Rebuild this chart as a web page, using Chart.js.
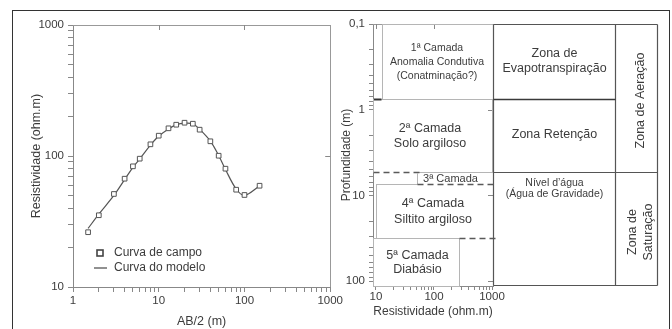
<!DOCTYPE html>
<html><head><meta charset="utf-8">
<script src="https://cdn.jsdelivr.net/npm/chart.js@4/dist/chart.umd.min.js"></script>
<style>
html,body{margin:0;padding:0;background:#fff;width:672px;height:329px;overflow:hidden;}
#frame{position:absolute;left:12px;top:10px;width:658px;height:330px;border:1.5px solid #333;border-bottom:none;box-sizing:border-box;}
#c1{position:absolute;left:0;top:0;}
#c2{position:absolute;left:336px;top:0;}
</style></head><body>
<div id="frame"></div>
<canvas id="c1" width="345" height="329"></canvas>
<canvas id="c2" width="336" height="329"></canvas>
<script>
// ---------- Left panel data (sounding curve) ----------
const abHalf   = [1.5, 2, 3, 4, 5, 6, 8, 10, 13, 16, 20, 25, 30, 40, 50, 60, 80, 100, 150];
const fieldRho = [26.2, 35.3, 51.3, 67.1, 83.4, 95.4, 122.8, 142.9, 162.7, 173.3, 179.5, 176.4, 158.8, 129.5, 100.5, 80, 55.3, 50.4, 59.3];
const modelRho = [28, 36, 50, 66, 82, 95, 121, 142, 161, 173, 178, 176, 160, 130, 101, 79, 56, 50, 59];
const seriesNames = ['Curva de campo', 'Curva do modelo'];
const abTicks   = [1,2,3,4,5,6,7,8,9,10,20,30,40,50,60,70,80,90,100,200,300,400,500,600,700,800,900,1000];
const abMajor   = [1, 10, 100, 1000];
const abLabels  = ['1', '10', '100', '1000'];
const rhoTicks  = [10,20,30,40,50,60,70,80,90,100,200,300,400,500,600,700,800,900,1000];
const rhoMajor  = [10, 100, 1000];
const rhoLabels = ['10', '100', '1000'];

// ---------- Right panel data (geoelectric layers) ----------
const layerText = [
  ['1ª Camada', 'Anomalia Condutiva', '(Conatminação?)'],
  ['2ª Camada', 'Solo argiloso'],
  ['3ª Camada'],
  ['4ª Camada', 'Siltito argiloso'],
  ['5ª Camada', 'Diabásio']
];
const layerTop    = [0.1, 0.75, 5.3, 7.4, 31];
const layerBase   = [0.75, 5.3, 7.4, 31, null];      // null = bottom of axis
const layerResMin = [12.5, null, 50, 10, null];      // null = axis start
const layerResMax = [null, 1000, null, null, 275];   // null = axis end
const inferredDepth = [5.3, 7.4, 31];
const inferredFrom  = [null, 50, 275];
const inferredTo    = [50, null, null];
const zoneText = [['Zona de', 'Evapotranspiração'], ['Zona Retenção'], ['Nível d’água', '(Água de Gravidade)']];
const zoneTop  = [0.1, 0.75, 5.3];
const zoneBase = [0.75, 5.3, null];
const bigZoneText = [['Zona de Aeração'], ['Zona de', 'Saturação']];
const bigZoneTop  = [0.1, 5.3];
const bigZoneBase = [5.3, null];
const resTicks  = [10,20,30,40,50,60,70,80,90,100,200,300,400,500,600,700,800,900,1000];
const resMajor  = [10, 100, 1000];
const resLabels = ['10', '100', '1000'];
const depthTicks  = [0.1,0.2,0.3,0.4,0.5,0.6,0.7,0.8,0.9,1,2,3,4,5,6,7,8,9,10,20,30,40,50,60,70,80,90,100];
const depthMajor  = [0.1, 1, 10, 100];
const depthLabels = ['0,1', '1', '10', '100'];

// ---------- common ----------
const FONT = "'Liberation Sans', Arial, Helvetica, sans-serif";
Chart.defaults.font.family = FONT;
Chart.defaults.color = '#3c3c3c';
Chart.defaults.animation = false;

function labelFor(majors, labels) {
  return v => { const i = majors.indexOf(v); return i >= 0 ? labels[i] : ''; };
}
function seg(ctx, x1, y1, x2, y2) { ctx.beginPath(); ctx.moveTo(x1, y1); ctx.lineTo(x2, y2); ctx.stroke(); }
function crisp(v) { return Math.round(v) + 0.5; }

const frameTicks = {
  id: 'frameTicks',
  afterDraw(chart, args, opts) {
    const {ctx, chartArea: a, scales} = chart;
    ctx.save();
    ctx.strokeStyle = '#999'; ctx.lineWidth = 1;
    seg(ctx, a.left, crisp(a.top), a.right, crisp(a.top));
    seg(ctx, crisp(a.right), a.top, crisp(a.right), a.bottom);
    ctx.strokeStyle = '#888';
    opts.xMajor.forEach(v => { const x = crisp(scales.x.getPixelForValue(v)); if (x > a.left + 2 && x < a.right - 2) seg(ctx, x, a.top, x, a.top + 5); });
    opts.yMajor.forEach(v => { const y = crisp(scales.y.getPixelForValue(v)); if (y > a.top + 2 && y < a.bottom - 2) seg(ctx, a.right, y, a.right - 5, y); });
    ctx.restore();
  }
};

function axisOpts(ticks, majors, labels, extra) {
  return Object.assign({
    type: 'logarithmic',
    afterBuildTicks: s => { s.ticks = ticks.map(v => ({value: v, major: majors.includes(v)})); },
    ticks: { autoSkip: false, maxRotation: 0, minRotation: 0, callback: labelFor(majors, labels), font: {size: 11}, color: '#3c3c3c' },
    grid: { display: true, drawOnChartArea: false, drawTicks: true, tickLength: 5, tickColor: '#888', tickWidth: 1 },
    border: { display: true, color: '#888', width: 1 }
  }, extra);
}

// ---------- Left chart ----------
const legendPlugin = {
  id: 'sevLegend',
  afterDraw(chart) {
    const {ctx, chartArea: a} = chart;
    const ds = chart.data.datasets;
    ctx.save();
    ctx.font = '12px ' + FONT; ctx.fillStyle = '#3c3c3c'; ctx.textBaseline = 'middle'; ctx.textAlign = 'left';
    const x0 = a.left + 27, y1 = a.bottom - 34, y2 = a.bottom - 19;
    ctx.strokeStyle = '#444'; ctx.lineWidth = 1.6; ctx.fillStyle = '#fff';
    ctx.fillRect(x0 - 3, y1 - 3, 6, 6); ctx.strokeRect(x0 - 3, y1 - 3, 6, 6);
    ctx.lineWidth = 1.3; ctx.strokeStyle = '#555';
    seg(ctx, x0 - 6, y2, x0 + 7, y2);
    ctx.fillStyle = '#3c3c3c';
    ctx.fillText(ds[0].label, x0 + 14, y1);
    ctx.fillText(ds[1].label, x0 + 14, y2);
    ctx.restore();
  }
};

new Chart(document.getElementById('c1'), {
  type: 'line',
  data: {
    labels: abHalf,
    datasets: [
      { label: seriesNames[0], data: abHalf.map((x, i) => ({x, y: fieldRho[i]})), showLine: false,
        pointStyle: 'rect', pointRadius: 3.3, pointBorderWidth: 1, pointBorderColor: '#555', pointBackgroundColor: '#fff', order: 0 },
      { label: seriesNames[1], data: abHalf.map((x, i) => ({x, y: modelRho[i]})), borderColor: '#555', borderWidth: 1.2,
        pointRadius: 0, tension: 0.35, fill: false, order: 1 }
    ]
  },
  options: {
    responsive: false,
    layout: { padding: { top: 25, right: 14, left: 0, bottom: 0 } },
    plugins: { legend: { display: false }, tooltip: { enabled: false }, frameTicks: { xMajor: abMajor, yMajor: rhoMajor } },
    scales: {
      x: axisOpts(abTicks, abMajor, abLabels, {
        min: 1, max: 1000, afterFit: s => { s.height = 42; },
        ticks: { autoSkip: false, maxRotation: 0, minRotation: 0, padding: 2, callback: labelFor(abMajor, abLabels), font: {size: 11.5}, color: '#3c3c3c' },
        title: { display: true, text: 'AB/2 (m)', font: {size: 12.5}, color: '#3c3c3c', padding: {top: 0, bottom: 0} }
      }),
      y: axisOpts(rhoTicks, rhoMajor, rhoLabels, {
        min: 10, max: 1000, afterFit: s => { s.width = 73; },
        ticks: { autoSkip: false, padding: 4, callback: labelFor(rhoMajor, rhoLabels), font: {size: 11.5}, color: '#3c3c3c' },
        title: { display: true, text: 'Resistividade (ohm.m)', font: {size: 12.5}, color: '#3c3c3c', padding: {top: 29.5, bottom: 0} }
      })
    }
  },
  plugins: [frameTicks, legendPlugin]
});

// ---------- Right chart ----------
const layerPlugin = {
  id: 'layers',
  afterDraw(chart) {
    const {ctx, chartArea: a, scales: {x: xs, y: ys}} = chart;
    const px = v => crisp(xs.getPixelForValue(v === null ? xs.max : v));
    const pxMin = v => crisp(xs.getPixelForValue(v === null ? xs.min : v));
    const py = v => crisp(ys.getPixelForValue(v === null ? ys.max : v));
    ctx.save();
    // layer boxes
    ctx.strokeStyle = '#b5b5b5'; ctx.lineWidth = 1;
    layerText.forEach((t, i) => {
      const x1 = pxMin(layerResMin[i]), x2 = px(layerResMax[i]);
      const y1 = py(layerTop[i]), y2 = py(layerBase[i]);
      ctx.strokeRect(x1, y1, x2 - x1, y2 - y1);
    });
    // inferred (dashed) contacts
    ctx.strokeStyle = '#fff'; ctx.lineWidth = 3;
    inferredDepth.forEach((d, i) => seg(ctx, pxMin(inferredFrom[i]) + 1, py(d), px(inferredTo[i]), py(d)));
    ctx.strokeStyle = '#5a5a5a'; ctx.lineWidth = 1.4; ctx.setLineDash([6, 4]);
    inferredDepth.forEach((d, i) => seg(ctx, pxMin(inferredFrom[i]), py(d), px(inferredTo[i]) + 3, py(d)));
    ctx.setLineDash([]);
    // dark mark at base of first layer, between axis and its left edge
    ctx.strokeStyle = '#333'; ctx.lineWidth = 2;
    seg(ctx, a.left + 1, py(layerBase[0]), pxMin(layerResMin[0]) - 1, py(layerBase[0]));
    // layer labels
    const lSize = [10.5, 12.5, 11, 12.5, 12.5], lLead = [14, 15.5, 12, 16.5, 14.5], lDx = [-1, -3, -5, -2, 1];
    ctx.fillStyle = '#3c3c3c'; ctx.textAlign = 'center'; ctx.textBaseline = 'middle';
    layerText.forEach((lines, i) => {
      const cx = (pxMin(layerResMin[i]) + px(layerResMax[i])) / 2 + lDx[i];
      const cy = (py(layerTop[i]) + py(layerBase[i])) / 2;
      ctx.font = lSize[i] + 'px ' + FONT;
      lines.forEach((s, k) => ctx.fillText(s, cx, cy + (k - (lines.length - 1) / 2) * lLead[i]));
    });
    // zone table to the right of the plot
    const x0 = crisp(a.right), x1 = x0 + 122, x2 = x0 + 164;
    const yT = py(0.1), yB = py(null) - 1;
    ctx.strokeStyle = '#555'; ctx.lineWidth = 1.2;
    seg(ctx, x0, yT, x0, yB); seg(ctx, x1, yT, x1, yB); seg(ctx, x2, yT, x2, yB);
    seg(ctx, x0, yT, x2, yT); seg(ctx, x0, yB, x2, yB);
    bigZoneBase.forEach(b => { if (b !== null) seg(ctx, x0, py(b), x2, py(b)); });
    ctx.strokeStyle = '#3a3a3a'; ctx.lineWidth = 1.6;
    zoneBase.forEach(b => { if (b !== null && !bigZoneBase.includes(b)) seg(ctx, x0, py(b), x1, py(b)); });
    const zSize = [12.5, 12.5, 10.5], zLead = [15, 15, 11];
    ctx.fillStyle = '#3c3c3c';
    zoneText.forEach((lines, i) => {
      const t = py(zoneTop[i]), b = Math.min(py(zoneBase[i]), yB);
      ctx.font = zSize[i] + 'px ' + FONT;
      const cy = (b - t) > 100 ? t + 11 + (lines.length - 1) * zLead[i] / 2 : (t + b) / 2 - 1;
      lines.forEach((s, k) => ctx.fillText(s, (x0 + x1) / 2, cy + (k - (lines.length - 1) / 2) * zLead[i]));
    });
    ctx.font = '12.5px ' + FONT;
    bigZoneText.forEach((lines, i) => {
      const t = py(bigZoneTop[i]), b = Math.min(py(bigZoneBase[i]), yB);
      const cx = (x1 + x2) / 2 + (lines.length > 1 ? 4 : 4), cy = (t + b) / 2 + (lines.length > 1 ? 3 : 2);
      ctx.save(); ctx.translate(cx, cy); ctx.rotate(-Math.PI / 2);
      lines.forEach((s, k) => ctx.fillText(s, 0, (k - (lines.length - 1) / 2) * 16.5));
      ctx.restore();
    });
    ctx.restore();
  }
};

new Chart(document.getElementById('c2'), {
  type: 'scatter',
  data: { datasets: [] },
  options: {
    responsive: false,
    layout: { padding: { top: 24, right: 179, left: 0, bottom: 0 } },
    plugins: { legend: { display: false }, tooltip: { enabled: false }, frameTicks: { xMajor: resMajor, yMajor: depthMajor } },
    scales: {
      x: axisOpts(resTicks, resMajor, resLabels, {
        min: 8.9, max: 1040, afterFit: s => { s.height = 43; },
        grid: { display: true, drawOnChartArea: false, drawTicks: true, tickLength: 4, tickColor: '#888', tickWidth: 1 },
        ticks: { autoSkip: false, maxRotation: 0, minRotation: 0, padding: 0, callback: labelFor(resMajor, resLabels), font: {size: 11.5}, color: '#3c3c3c' },
        title: { display: true, text: 'Resistividade (ohm.m)', font: {size: 12}, color: '#3c3c3c', padding: {top: 0, bottom: 10} }
      }),
      y: axisOpts(depthTicks, depthMajor, depthLabels, {
        min: 0.1, max: 114, reverse: true, afterFit: s => { s.width = 37; },
        grid: { display: true, drawOnChartArea: false, drawTicks: true, tickLength: 4, tickColor: '#888', tickWidth: 1 },
        ticks: { autoSkip: false, padding: 4, callback: labelFor(depthMajor, depthLabels), font: {size: 11.5}, color: '#3c3c3c' },
        title: { display: true, text: 'Profundidade (m)', font: {size: 12}, color: '#3c3c3c', padding: {top: 3.5, bottom: 0} }
      })
    }
  },
  plugins: [frameTicks, layerPlugin]
});
</script>
</body></html>
